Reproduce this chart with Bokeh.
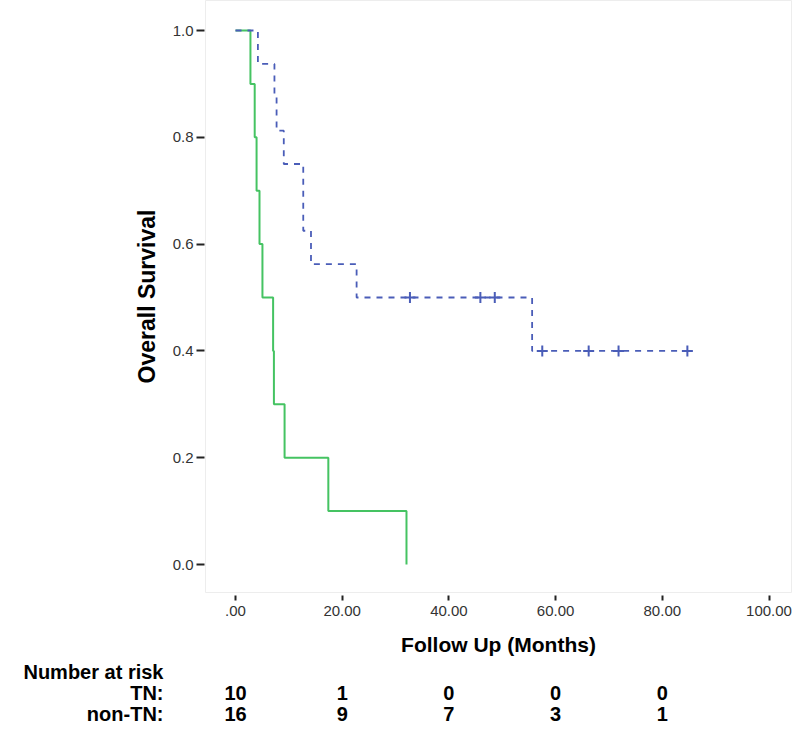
from bokeh.plotting import figure
from bokeh.models import Range1d, FixedTicker
from bokeh.layouts import column
from bokeh.core.properties import value
from bokeh.embed import file_html
from bokeh.resources import INLINE

# ---- data ----
tn_time = [0, 2.8, 3.6, 3.95, 4.5, 5.05, 7.05, 7.2, 9.2, 17.4, 32.05]
tn_surv = [1.0, 0.9, 0.8, 0.7, 0.6, 0.5, 0.4, 0.3, 0.2, 0.1, 0.0]

ntn_time = [0, 4.2, 7.3, 7.7, 9.05, 12.7, 14.15, 22.7, 55.6, 84.7]
ntn_surv = [1.0, 0.9375, 0.875, 0.8125, 0.75, 0.625, 0.5625, 0.5, 0.4, 0.4]

ntn_cens_time = [32.7, 45.9, 48.6, 57.5, 66.2, 71.8, 84.7]
ntn_cens_surv = [0.5, 0.5, 0.5, 0.4, 0.4, 0.4, 0.4]

x_ticks = [0, 20, 40, 60, 80, 100]
x_tick_labels = [".00", "20.00", "40.00", "60.00", "80.00", "100.00"]
y_ticks = [0.0, 0.2, 0.4, 0.6, 0.8, 1.0]
y_tick_labels = ["0.0", "0.2", "0.4", "0.6", "0.8", "1.0"]

risk_times = [0, 20, 40, 60, 80]
risk_tn = [10, 1, 0, 0, 0]
risk_ntn = [16, 9, 7, 3, 1]
risk_row_labels = ["Number at risk", "TN:", "non-TN:"]

FONT = "Liberation Sans"
GREEN = "#45c362"
BLUE = "#4a5db8"

W = 792
PX_PER_MONTH = 5.335
X0_PX = 235          # pixel position of month 0
FRAME_LEFT = 205
MAIN_H = 660
TABLE_H = 66

x_start = (FRAME_LEFT - X0_PX) / PX_PER_MONTH
x_end = (W - 1 - X0_PX) / PX_PER_MONTH

p = figure(width=W, height=MAIN_H, output_backend="svg", toolbar_location=None,
           x_range=Range1d(x_start, x_end), y_range=Range1d(-0.0524, 1.0562),
           min_border_left=FRAME_LEFT, min_border_right=1, min_border_top=0,
           min_border_bottom=MAIN_H - 592)
p.background_fill_color = "white"
p.border_fill_color = "white"
p.outline_line_color = "#ededed"
p.grid.visible = False

# curves
p.step(tn_time, tn_surv, mode="after", line_color=GREEN, line_width=2)
p.step(ntn_time, ntn_surv, mode="after", line_color=BLUE, line_width=1.8,
       line_dash="6 6")
p.scatter(ntn_cens_time, ntn_cens_surv, marker="cross", size=11,
          line_color=BLUE, line_width=2)

# axes
xa = p.xaxis[0]
xa.ticker = FixedTicker(ticks=x_ticks)
xa.major_label_overrides = {t: l for t, l in zip(x_ticks, x_tick_labels)}
xa.axis_line_color = None
xa.minor_tick_line_color = None
xa.major_tick_in = -3
xa.major_tick_out = 8
xa.major_tick_line_width = 2
xa.major_tick_line_color = "#222222"
xa.major_label_standoff = 5
xa.major_label_text_font = FONT
xa.major_label_text_font_size = "15px"
xa.major_label_text_color = "#333333"
xa.axis_label = "Follow Up (Months)"
xa.axis_label_text_font = FONT
xa.axis_label_text_font_style = "bold"
xa.axis_label_text_font_size = "21px"
xa.axis_label_text_color = "black"
xa.axis_label_standoff = 14

ya = p.yaxis[0]
ya.ticker = FixedTicker(ticks=y_ticks)
ya.major_label_overrides = {t: l for t, l in zip(y_ticks, y_tick_labels)}
ya.axis_line_color = None
ya.minor_tick_line_color = None
ya.major_tick_in = -1
ya.major_tick_out = 9
ya.major_tick_line_width = 2
ya.major_tick_line_color = "#222222"
ya.major_label_standoff = 3
ya.major_label_text_font = FONT
ya.major_label_text_font_size = "15px"
ya.major_label_text_color = "#333333"
ya.axis_label = "Overall Survival"
ya.axis_label_text_font = FONT
ya.axis_label_text_font_style = "bold"
ya.axis_label_text_font_size = "23px"
ya.axis_label_text_color = "black"
ya.axis_label_standoff = 10

# ---- number at risk table, sharing the x scale ----
row_y = [7, 32, 53]
t = figure(width=W, height=TABLE_H, output_backend="svg", toolbar_location=None,
           x_range=p.x_range, y_range=Range1d(TABLE_H, 0),
           min_border_left=FRAME_LEFT, min_border_right=1, min_border_top=0,
           min_border_bottom=0, x_axis_location=None)
t.grid.visible = False
t.outline_line_color = None
t.background_fill_color = "white"
t.border_fill_color = "white"

ta = t.yaxis[0]
ta.ticker = FixedTicker(ticks=row_y)
ta.major_label_overrides = {y: l for y, l in zip(row_y, risk_row_labels)}
ta.axis_line_color = None
ta.major_tick_line_color = None
ta.minor_tick_line_color = None
ta.major_tick_in = 0
ta.major_tick_out = 0
ta.major_label_standoff = 42
ta.major_label_text_font = FONT
ta.major_label_text_font_style = "bold"
ta.major_label_text_font_size = "20px"
ta.major_label_text_color = "black"

common = dict(text_font=value(FONT), text_font_style="bold",
              text_font_size="20px", text_color="black",
              text_baseline="middle", text_align="center")
t.text(x=risk_times, y=[row_y[1]] * len(risk_times),
       text=[str(v) for v in risk_tn], **common)
t.text(x=risk_times, y=[row_y[2]] * len(risk_times),
       text=[str(v) for v in risk_ntn], **common)

layout = column(p, t, spacing=0)
open("out.html", "w").write(file_html(layout, INLINE))
